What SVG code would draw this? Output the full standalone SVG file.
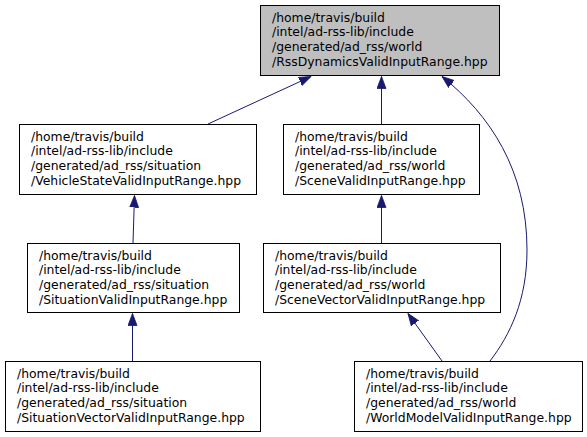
<svg xmlns="http://www.w3.org/2000/svg" width="587" height="437" viewBox="0 0 587 437">
<style>
rect.n{fill:#ffffff;stroke:#000000;stroke-width:1}
rect.root{fill:#bfbfbf;stroke:#000000;stroke-width:1}
text{font-family:"DejaVu Sans","Liberation Sans",sans-serif;font-size:12.4px;fill:#000000}
.e{fill:none;stroke:#191970;stroke-width:1;marker-end:url(#ah)}
</style>
<defs>
<marker id="ah" markerUnits="userSpaceOnUse" markerWidth="13" markerHeight="10" refX="12" refY="4.5" orient="auto" viewBox="0 0 13 9">
<path d="M0,0 L12,4.5 L0,9 Z" fill="#191970" stroke="#191970" stroke-width="0.8"/>
</marker>
</defs>
<g id="edges">
<path class="e" d="M208,124 L311,76.5"/>
<path class="e" d="M381.5,124 L381.5,76.5"/>
<path class="e" d="M490,361 C510,335 527,300 527,250 C527,170 490,115 442,76.5"/>
<path class="e" d="M133,243 L134.5,195.5"/>
<path class="e" d="M132.5,361 L132.5,313.5"/>
<path class="e" d="M381.5,243 L381.5,195.5"/>
<path class="e" d="M442,361 L408,313.5"/>
</g>
<g id="n0">
<rect class="root" x="260.5" y="5.5" width="239" height="70"/>
<text x="272" y="21.5">/home/travis/build</text>
<text x="272" y="36.2">/intel/ad-rss-lib/include</text>
<text x="272" y="50.9">/generated/ad_rss/world</text>
<text x="272" y="65.6">/RssDynamicsValidInputRange.hpp</text>
</g>
<g id="n1">
<rect class="n" x="19.5" y="124.5" width="237" height="70"/>
<text x="31" y="140.5">/home/travis/build</text>
<text x="31" y="155.2">/intel/ad-rss-lib/include</text>
<text x="31" y="169.9">/generated/ad_rss/situation</text>
<text x="31" y="184.6">/VehicleStateValidInputRange.hpp</text>
</g>
<g id="n2">
<rect class="n" x="283.5" y="124.5" width="196" height="70"/>
<text x="295" y="140.5">/home/travis/build</text>
<text x="295" y="155.2">/intel/ad-rss-lib/include</text>
<text x="295" y="169.9">/generated/ad_rss/world</text>
<text x="295" y="184.6">/SceneValidInputRange.hpp</text>
</g>
<g id="n3">
<rect class="n" x="27.5" y="243.5" width="212" height="69"/>
<text x="39" y="259.5">/home/travis/build</text>
<text x="39" y="274.2">/intel/ad-rss-lib/include</text>
<text x="39" y="288.9">/generated/ad_rss/situation</text>
<text x="39" y="303.6">/SituationValidInputRange.hpp</text>
</g>
<g id="n4">
<rect class="n" x="263.5" y="243.5" width="237" height="69"/>
<text x="275" y="259.5">/home/travis/build</text>
<text x="275" y="274.2">/intel/ad-rss-lib/include</text>
<text x="275" y="288.9">/generated/ad_rss/world</text>
<text x="275" y="303.6">/SceneVectorValidInputRange.hpp</text>
</g>
<g id="n5">
<rect class="n" x="5.5" y="361.5" width="255" height="70"/>
<text x="17" y="377.5">/home/travis/build</text>
<text x="17" y="392.2">/intel/ad-rss-lib/include</text>
<text x="17" y="406.9">/generated/ad_rss/situation</text>
<text x="17" y="421.6">/SituationVectorValidInputRange.hpp</text>
</g>
<g id="n6">
<rect class="n" x="354.5" y="361.5" width="228" height="70"/>
<text x="366" y="377.5">/home/travis/build</text>
<text x="366" y="392.2">/intel/ad-rss-lib/include</text>
<text x="366" y="406.9">/generated/ad_rss/world</text>
<text x="366" y="421.6">/WorldModelValidInputRange.hpp</text>
</g>
</svg>
